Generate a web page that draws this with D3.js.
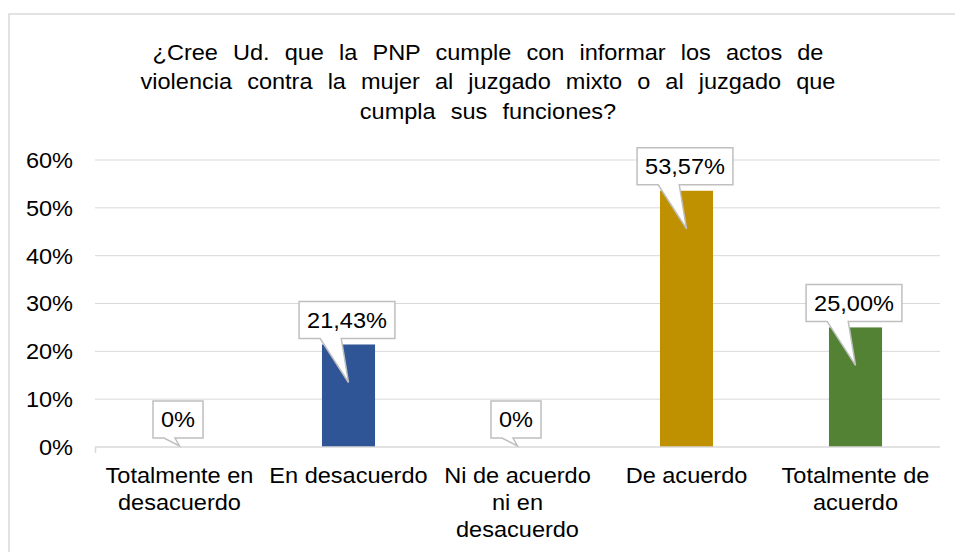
<!DOCTYPE html>
<html>
<head>
<meta charset="utf-8">
<script src="https://d3js.org/d3.v7.min.js"></script>
<style>
  body { margin: 0; background: #fff; }
  svg { display: block; font-family: "Liberation Sans", Arial, sans-serif; }
</style>
</head>
<body>
<svg id="canvas" width="955" height="552"></svg>
<script>
let categories = ['Totalmente en desacuerdo', 'En desacuerdo', 'Ni de acuerdo ni en desacuerdo', 'De acuerdo', 'Totalmente de acuerdo'];
let tickLabels = [['Totalmente en', 'desacuerdo'], ['En desacuerdo'], ['Ni de acuerdo', 'ni en', 'desacuerdo'], ['De acuerdo'], ['Totalmente de', 'acuerdo']];
let values = [0, 0.2143, 0, 0.5357, 0.25];
let valueLabels = ['0%', '21,43%', '0%', '53,57%', '25,00%'];
let barColors = ['#2F5597', '#2F5597', '#2F5597', '#BF9000', '#548235'];
let yTicks = [0, 0.1, 0.2, 0.3, 0.4, 0.5, 0.6];
let titleLines = ['¿Cree Ud. que la PNP cumple con informar los actos de', 'violencia contra la mujer al juzgado mixto o al juzgado que', 'cumpla sus funciones?'];

let canvas = d3.select('#canvas');
let sx = 1.07; // text in the picture is a bit wider than Arial

let stretch = (sel, ax) => {
  sel.attr('transform', 'translate(' + ax + ',0) scale(' + sx + ',1) translate(' + (-ax) + ',0)');
};

// chart border
canvas.append('rect')
  .attr('x', 9).attr('y', 14)
  .attr('width', 960).attr('height', 560)
  .attr('fill', 'none')
  .attr('stroke', '#d9d9d9')
  .attr('stroke-width', 1.5);

let x = d3.scaleBand()
  .domain(categories)
  .range([95, 940])
  .paddingInner(0.686)
  .paddingOuter(0.343);

let y = d3.scaleLinear()
  .domain([0, 0.6])
  .range([447, 160]);

// title
let title = canvas.append('text')
  .attr('x', 488)
  .attr('y', 60)
  .attr('text-anchor', 'middle')
  .attr('font-size', 22)
  .attr('word-spacing', 8)
  .attr('fill', '#000');
title.selectAll('tspan')
  .data(titleLines)
  .enter()
  .append('tspan')
  .attr('x', 488)
  .attr('dy', (d, i) => i === 0 ? 0 : 29.5)
  .text(d => d);
stretch(title, 488);

// gridlines
canvas.selectAll('line.grid')
  .data(yTicks.filter(t => t > 0))
  .enter()
  .append('line')
  .attr('class', 'grid')
  .attr('x1', 95).attr('x2', 940)
  .attr('y1', d => y(d)).attr('y2', d => y(d))
  .attr('stroke', '#d9d9d9')
  .attr('stroke-width', 1);

// y labels
canvas.selectAll('text.ylab')
  .data(yTicks)
  .enter()
  .append('text')
  .attr('class', 'ylab')
  .attr('x', 73)
  .attr('y', d => y(d) + 8)
  .attr('text-anchor', 'end')
  .attr('font-size', 22)
  .attr('fill', '#000')
  .text(d => d3.format('.0%')(d))
  .call(stretch, 73);

// bars
canvas.selectAll('rect.bar')
  .data(categories)
  .enter()
  .append('rect')
  .attr('class', 'bar')
  .attr('x', d => x(d))
  .attr('y', (d, i) => y(values[i]))
  .attr('width', x.bandwidth())
  .attr('height', (d, i) => y(0) - y(values[i]))
  .attr('fill', (d, i) => barColors[i]);

// x axis line
canvas.append('line')
  .attr('x1', 95).attr('x2', 940)
  .attr('y1', y(0)).attr('y2', y(0))
  .attr('stroke', '#d9d9d9')
  .attr('stroke-width', 1.5);
canvas.append('line')
  .attr('x1', 95.5).attr('x2', 95.5)
  .attr('y1', y(0)).attr('y2', y(0) + 6)
  .attr('stroke', '#d9d9d9')
  .attr('stroke-width', 1.5);

// category labels
categories.forEach((c, i) => {
  let cx = x(c) + x.bandwidth() / 2;
  let lab = canvas.append('text')
    .attr('text-anchor', 'middle')
    .attr('font-size', 22)
    .attr('fill', '#000');
  lab.selectAll('tspan')
    .data(tickLabels[i])
    .enter()
    .append('tspan')
    .attr('x', cx)
    .attr('y', (d, j) => 483 + j * 27)
    .text(d => d);
  stretch(lab, cx);
});

// callouts
categories.forEach((c, i) => {
  let cx = x(c) + x.bandwidth() / 2;
  let top = y(values[i]);
  let g = canvas.append('g');
  let t = g.append('text')
    .attr('text-anchor', 'middle')
    .attr('font-size', 22)
    .attr('fill', '#000')
    .text(valueLabels[i]);
  let w = t.node().getComputedTextLength() * sx + 16;
  let h = 37;
  let bcx = cx - 1.5;
  let bottom = top - (values[i] === 0 ? 9 : 6);
  let left = bcx - w / 2, right = bcx + w / 2, boxTop = bottom - h;
  let tipY = values[i] === 0 ? y(0) - 1 : top + 38;
  let t1 = bcx - w * 0.28, t2 = bcx - w * 0.06;
  let path = 'M' + left + ',' + boxTop +
    'L' + right + ',' + boxTop +
    'L' + right + ',' + bottom +
    'L' + t2 + ',' + bottom +
    'L' + cx + ',' + tipY +
    'L' + t1 + ',' + bottom +
    'L' + left + ',' + bottom + 'Z';
  g.insert('path', 'text')
    .attr('d', path)
    .attr('fill', '#fff')
    .attr('stroke', '#bfbfbf')
    .attr('stroke-width', 1.5);
  t.attr('x', bcx).attr('y', boxTop + h / 2 + 8);
  stretch(t, bcx);
});
</script>
</body>
</html>
